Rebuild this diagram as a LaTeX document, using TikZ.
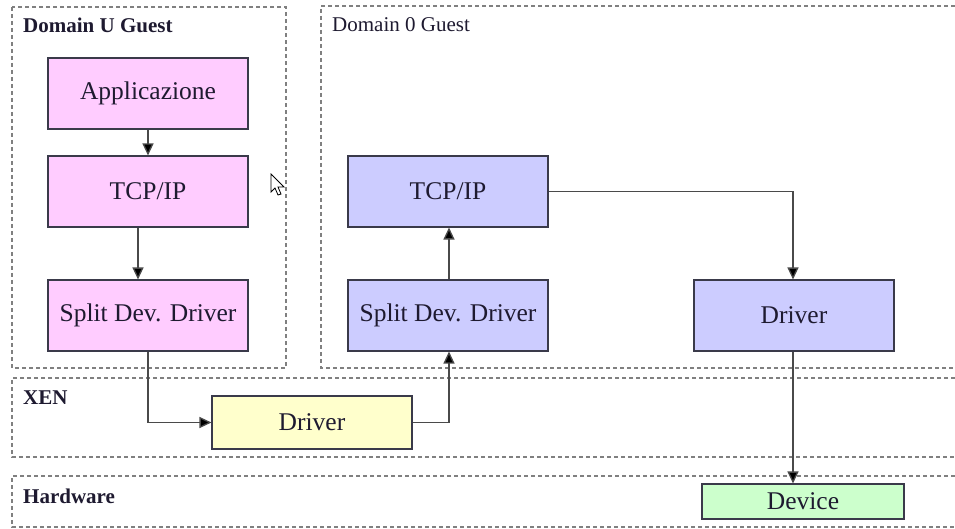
\documentclass[tikz,border=0pt]{standalone}
\usepackage{fontspec}
\setmainfont{Liberation Serif}
\usetikzlibrary{arrows.meta}
\definecolor{pinkf}{HTML}{FFCCFF}
\definecolor{bluef}{HTML}{CCCCFF}
\definecolor{yellowf}{HTML}{FFFFCC}
\definecolor{greenf}{HTML}{CCFFCC}
\definecolor{boxline}{HTML}{3A3A4A}
\definecolor{txt}{HTML}{1E1A30}
\definecolor{conn}{HTML}{4A4A4A}
\definecolor{regline}{HTML}{808080}
\tikzset{
  region/.style={draw=regline, line width=1.1pt, dash pattern=on 4pt off 3pt},
  regionlabel/.style={anchor=west, text=txt, inner sep=0pt, font=\fontsize{21}{25}\selectfont},
  boldlabel/.style={regionlabel, font=\bfseries\fontsize{21}{25}\selectfont},
  box/.style={draw=boxline, line width=1.1pt, text=txt, minimum width=200pt, minimum height=71pt, inner sep=0pt, font=\fontsize{25.5}{30}\selectfont},
  conn/.style={draw=conn, line width=1.3pt, -{Triangle[length=12pt,width=11pt,fill=black]}}
}
\begin{document}
\begin{tikzpicture}[x=1pt,y=-1pt]
\useasboundingbox[fill=white] (0,0) rectangle (955,529);
% regions
\draw[region] (12,7) rectangle (286,368);
\draw[region] (955,6) -- (321,6) -- (321,368) -- (955,368);
\draw[region] (955,378) -- (12,378) -- (12,457) -- (955,457);
\draw[region] (955,476) -- (12,476) -- (12,527) -- (955,527);
\node[boldlabel] (lu) at (23,25) {Domain U Guest};
\node[regionlabel] (l0) at (332,25) {Domain 0 Guest};
\node[boldlabel] (lx) at (23,398) {XEN};
\node[boldlabel] (lh) at (23,496) {Hardware};
% boxes
\node[box, fill=pinkf] (app) at (148,93.5) {Applicazione};
\node[box, fill=pinkf] (tcpU) at (148,191.5) {TCP/IP};
\node[box, fill=pinkf] (splitU) at (148,315.5) {Split Dev. Driver};
\node[box, fill=bluef] (tcpD) at (448,191.5) {TCP/IP};
\node[box, fill=bluef] (splitD) at (448,315.5) {Split Dev. Driver};
\node[box, fill=bluef] (drvD) at (794,315.5) {Driver};
\node[box, fill=yellowf, minimum height=53pt] (xdrv) at (312,422.5) {Driver};
\node[box, fill=greenf, minimum width=202pt, minimum height=35pt] (dev) at (803,501.5) {Device};
% connectors
\draw[conn] (app.south) -- (tcpU.north);
\draw[conn] ([xshift=-10pt]tcpU.south) -- ([xshift=-10pt]splitU.north);
\draw[conn] (splitU.south) |- (xdrv.west);
\draw[conn] (xdrv.east) -| ([xshift=1pt]splitD.south);
\draw[conn] ([xshift=1pt]splitD.north) -- ([xshift=1pt]tcpD.south);
\draw[conn] (tcpD.east) -| ([xshift=-1pt]drvD.north);
\draw[conn] ([xshift=-1pt]drvD.south) -- ([xshift=-1pt]drvD.south |- dev.north);
% mouse cursor
\draw[fill=white, line width=0.8pt] (271,174) -- (271,192) -- (275,188) -- (278,195) -- (281,194) -- (278,187) -- (284,187) -- cycle;
\end{tikzpicture}
\end{document}
